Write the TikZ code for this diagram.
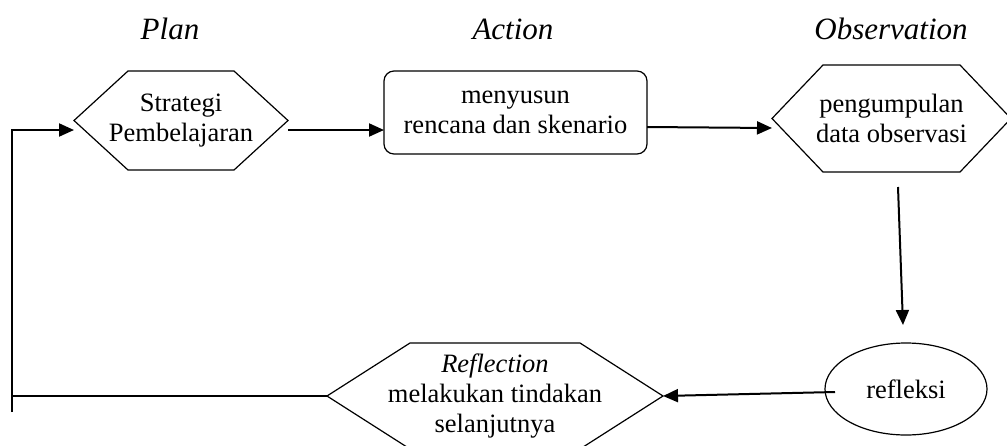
\documentclass[tikz,border=0pt]{standalone}
\usepackage{fontspec}
\setmainfont{Liberation Serif}
\usetikzlibrary{arrows.meta,shapes.geometric}

\begin{document}
\begin{tikzpicture}[
			x = 1pt, y = -1pt,
			every node/.style = {font = \fontsize{26.5}{30}\selectfont, align = center, inner sep = 0pt, outer sep = 0pt},
			head/.style = {font = \fontsize{31}{36}\selectfont\itshape, anchor = base},
			hexa/.style = {shape = rectangle},
			border/.style = {line width = 1.2pt},
			flow/.style = {line width = 2pt, -{Triangle[length=15pt,width=13pt]}}
			]

			\useasboundingbox (0,0) rectangle (1007,445);

			% judul tahap
			\node[head] (plan) at (170,39) {Plan};
			\node[head] (action) at (513,39) {Action};
			\node[head] (observation) at (891,39) {Observation};

			% langkah
			\node[hexa, minimum width = 214pt, minimum height = 99pt] (strat) at (181,120.5) {Strategi\\Pembelajaran};
			\node[draw, border, rounded corners = 10pt, minimum width = 263pt, minimum height = 83pt] (act) at (515.5,112.5) {menyusun\\rencana dan skenario};
			\node[hexa, minimum width = 239pt, minimum height = 107pt] (obs) at (891.5,118.5) {pengumpulan\\data observasi};
			\node[draw, border, ellipse, minimum width = 162pt, minimum height = 92pt] (refl) at (906,389) {refleksi};
			\node[hexa, minimum width = 336pt, minimum height = 106pt] (next) at (495,396) {\textit{Reflection}\\melakukan tindakan\\selanjutnya};

			% bentuk segi enam
			\foreach \n/\c in {strat/54, obs/51, next/83}{
				\draw[border] (\n.west) -- ([xshift=\c pt]\n.north west) -- ([xshift=-\c pt]\n.north east)
					-- (\n.east) -- ([xshift=-\c pt]\n.south east) -- ([xshift=\c pt]\n.south west) -- cycle;
			}

			\coordinate (corner) at (12,412);

			% panah
			\draw[flow] ([yshift=-9.5pt]strat.east) -- ([yshift=-17.5pt]act.west);
			\draw[flow] ([yshift=-14.5pt]act.east) -- ([yshift=-9.5pt]obs.west);
			\draw[flow] ([xshift=6.5pt,yshift=-15pt]obs.south) -- ([xshift=-3pt,yshift=18pt]refl.north);
			\draw[flow] ([xshift=10pt,yshift=-3pt]refl.west) -- (next.east);
			\draw[line width = 2pt] (next.west) -- (next.west -| corner);
			\draw[flow] (corner) |- ([yshift=-9.5pt]strat.west);

		\end{tikzpicture}
\end{document}
